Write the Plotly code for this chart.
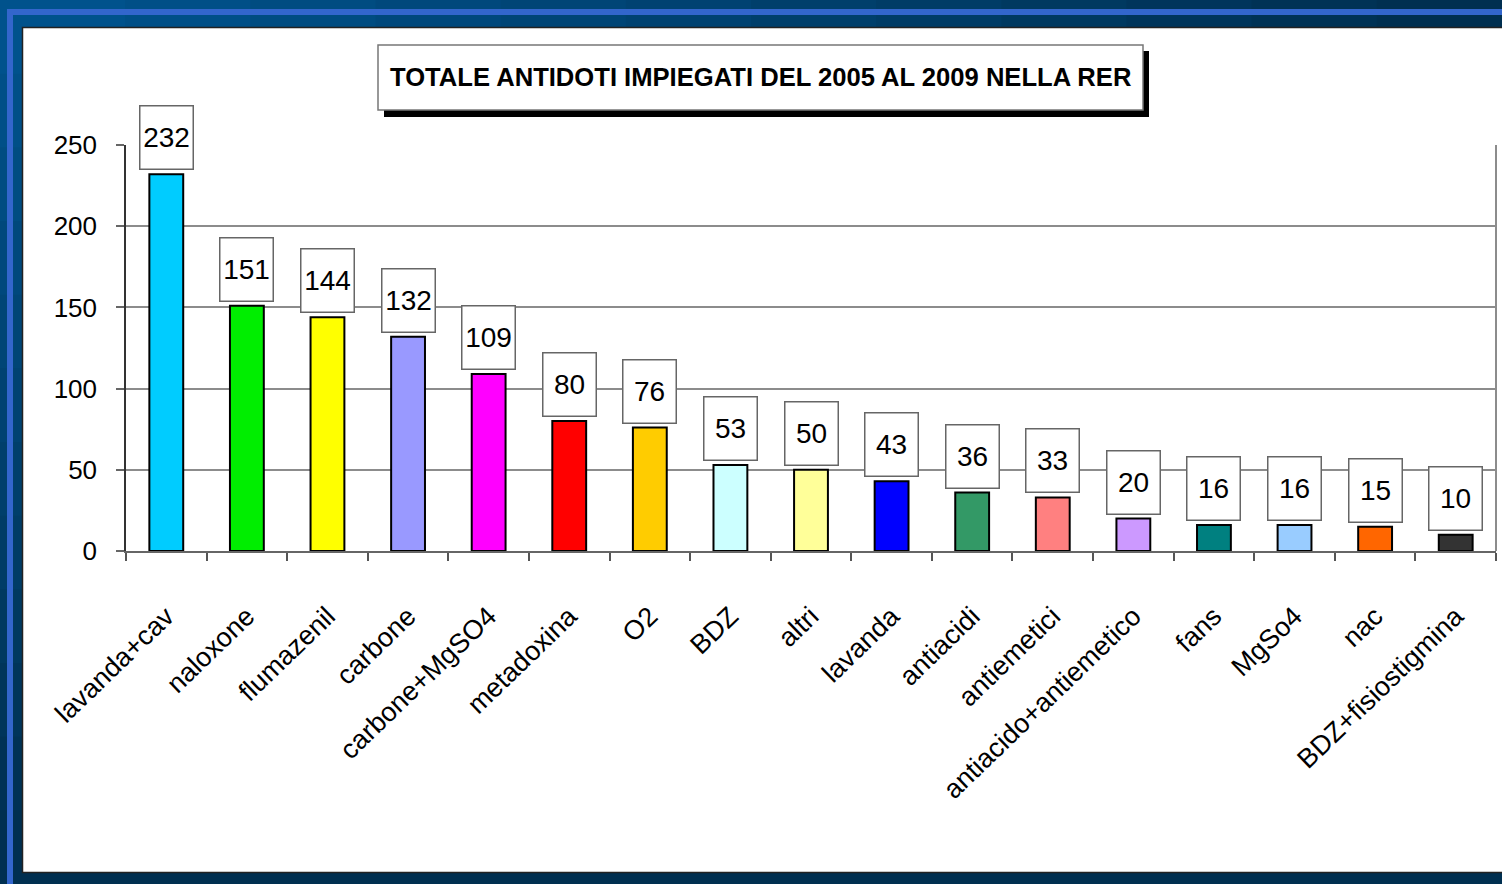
import plotly.graph_objects as go

# data
categories = [
    "lavanda+cav", "naloxone", "flumazenil", "carbone", "carbone+MgSO4",
    "metadoxina", "O2", "BDZ", "altri", "lavanda", "antiacidi",
    "antiemetici", "antiacido+antiemetico", "fans", "MgSo4", "nac",
    "BDZ+fisiostigmina",
]
values = [232, 151, 144, 132, 109, 80, 76, 53, 50, 43, 36, 33, 20, 16, 16, 15, 10]
bar_colors = [
    "#00ccff", "#00ee00", "#ffff00", "#9999ff", "#ff00ff", "#ff0000",
    "#ffcc00", "#ccffff", "#ffff99", "#0000ff", "#339966", "#ff8080",
    "#cc99ff", "#008080", "#99ccff", "#ff6600", "#333333",
]
y_ticks = [0, 50, 100, 150, 200, 250]
title_text = "TOTALE ANTIDOTI IMPIEGATI DEL 2005 AL 2009 NELLA RER"

FONT = "Liberation Sans, Arial, sans-serif"

# plot area in pixels
W_FIG, H_FIG = 1502, 884
LEFT, RIGHT, TOP, BOTTOM = 126, 1496, 145, 551


def px(x):
    return (x - LEFT) / (RIGHT - LEFT)


def py(y):
    return (BOTTOM - y) / (BOTTOM - TOP)


def mix(c1, c2, t):
    a = [int(c1[i:i + 2], 16) for i in (1, 3, 5)]
    b = [int(c2[i:i + 2], 16) for i in (1, 3, 5)]
    return "#%02x%02x%02x" % tuple(round(a[k] + (b[k] - a[k]) * t) for k in range(3))


fig = go.Figure()

fig.add_trace(go.Bar(
    x=categories,
    y=values,
    marker=dict(color=bar_colors, line=dict(color="black", width=2)),
    width=0.42,
    hoverinfo="x+y",
))

shapes = []
# dark blue frame, lighter at top-left
light, dark = "#00528c", "#002f50"
n = 12
for i in range(n):
    c = mix(light, dark, i / (n - 1))
    shapes.append(dict(type="rect", xref="paper", yref="paper", layer="below",
                       x0=px(i * W_FIG / n), x1=px((i + 1) * W_FIG / n + 1),
                       y0=py(0), y1=py(30), fillcolor=c, line_width=0))
    shapes.append(dict(type="rect", xref="paper", yref="paper", layer="below",
                       x0=px(0), x1=px(24),
                       y0=py(i * H_FIG / n), y1=py((i + 1) * H_FIG / n + 1),
                       fillcolor=c, line_width=0))
# light blue stripe
shapes.append(dict(type="rect", xref="paper", yref="paper", layer="below",
                   x0=px(10), x1=px(1560), y0=py(12), y1=py(940),
                   fillcolor="rgba(0,0,0,0)", line=dict(color="#3366cc", width=6)))
# white panel
shapes.append(dict(type="rect", xref="paper", yref="paper", layer="below",
                   x0=px(22.5), x1=px(1540), y0=py(27.5), y1=py(872.5),
                   fillcolor="white", line=dict(color="#222222", width=1.5)))
# title box with shadow
shapes.append(dict(type="rect", xref="paper", yref="paper", layer="below",
                   x0=px(384), x1=px(1149), y0=py(51), y1=py(117),
                   fillcolor="black", line_width=0))
shapes.append(dict(type="rect", xref="paper", yref="paper", layer="below",
                   x0=px(378), x1=px(1143), y0=py(45), y1=py(110),
                   fillcolor="white", line=dict(color="#777777", width=1.5)))
# right border of plot area
shapes.append(dict(type="line", xref="paper", yref="paper", layer="above",
                   x0=1, x1=1, y0=0, y1=1, line=dict(color="#8c8c8c", width=2)))

annotations = [dict(
    xref="paper", yref="paper", x=px(760.5), y=py(77),
    text="<b>" + title_text + "</b>", showarrow=False,
    font=dict(family=FONT, size=25.6, color="black"),
    xanchor="center", yanchor="middle",
)]
for cat, v in zip(categories, values):
    annotations.append(dict(
        x=cat, y=v, text=str(v), showarrow=False,
        xanchor="center", yanchor="bottom", yshift=4,
        font=dict(family=FONT, size=28, color="black"),
        bgcolor="white", bordercolor="#666666", borderwidth=1.5,
        borderpad=2, width=48, height=58,
    ))

fig.update_layout(
    width=W_FIG, height=H_FIG,
    margin=dict(l=LEFT, r=W_FIG - RIGHT, t=TOP, b=H_FIG - BOTTOM, pad=0),
    paper_bgcolor=dark,
    plot_bgcolor="rgba(0,0,0,0)",
    showlegend=False,
    shapes=shapes,
    annotations=annotations,
    bargap=0.58,
)
fig.update_yaxes(
    range=[0, 250], tickvals=y_ticks, showgrid=True,
    gridcolor="#8c8c8c", gridwidth=2,
    showline=True, linecolor="#333333", linewidth=1.5,
    ticks="outside", ticklen=8, tickcolor="#666666", tickwidth=1.5,
    tickfont=dict(family=FONT, size=26, color="black"),
    ticklabelstandoff=14, zeroline=False,
)
fig.update_xaxes(
    tickangle=-44, tickson="boundaries",
    showline=True, linecolor="#666666", linewidth=1.5,
    ticks="outside", ticklen=8, tickcolor="#555555", tickwidth=1.5,
    tickfont=dict(family=FONT, size=27, color="black"),
    ticklabelstandoff=37,
)

# the page's default body margin would shift the figure by 8px
fig.write_html("out.html", config={"displayModeBar": False},
               post_script="document.body.style.margin='0';")
